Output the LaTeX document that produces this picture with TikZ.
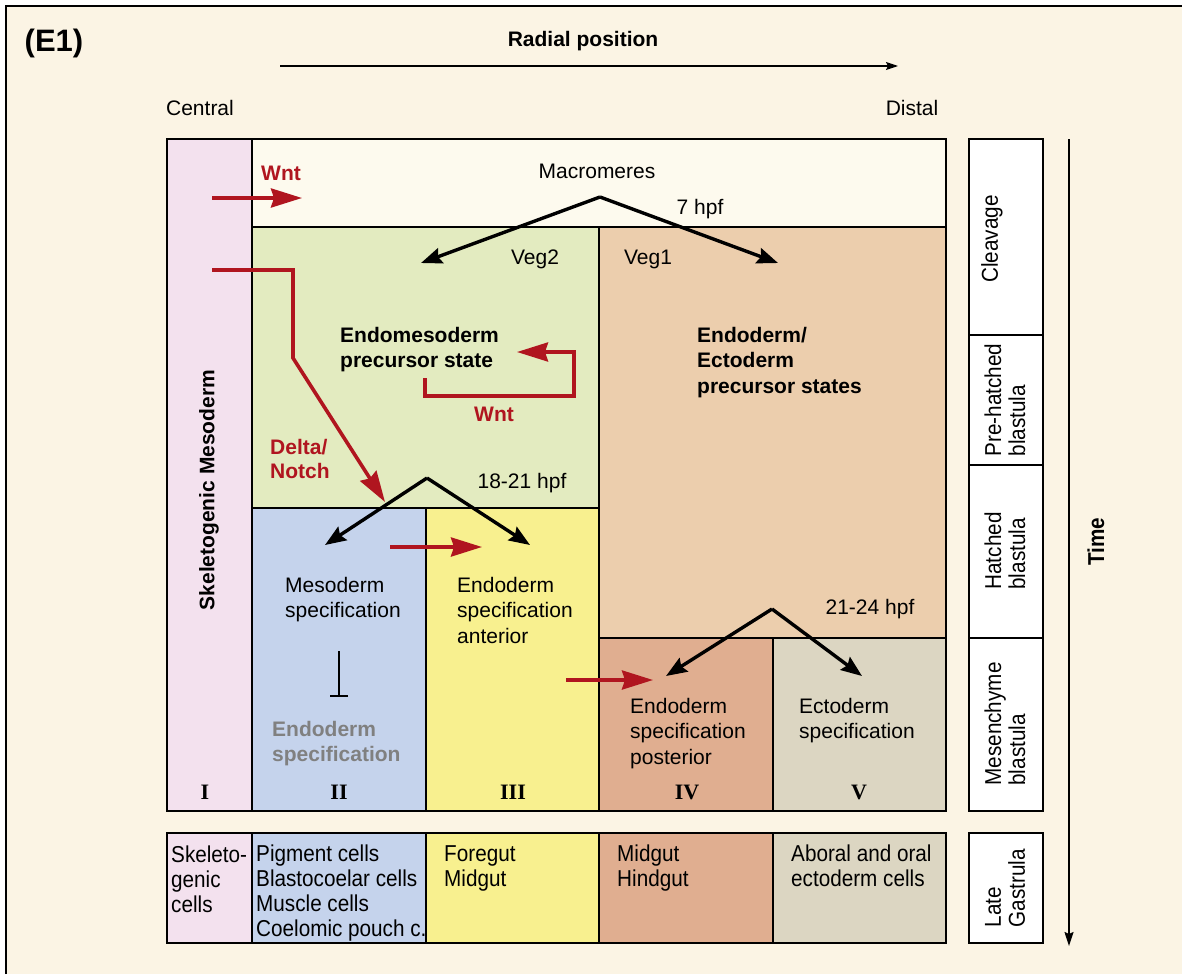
\documentclass[tikz,border=0pt]{standalone}
\usepackage{fontspec}
\setmainfont{Liberation Sans}
\newfontfamily\narrowfont{Liberation Sans}[FakeStretch=0.9]
\newfontfamily\romanfont{Liberation Serif}
\usetikzlibrary{arrows.meta}

\definecolor{bgcream}{HTML}{FBF4E4}
\definecolor{skelpink}{HTML}{F3E1EE}
\definecolor{macro}{HTML}{FDFAEE}
\definecolor{veggreen}{HTML}{E3EBC0}
\definecolor{vegorange}{HTML}{ECCEAD}
\definecolor{mesoblue}{HTML}{C5D3EC}
\definecolor{endoyellow}{HTML}{F8F08F}
\definecolor{postsalmon}{HTML}{E0AE90}
\definecolor{ectobeige}{HTML}{DCD6C2}
\definecolor{sigred}{HTML}{B0151F}
\definecolor{fadegray}{HTML}{808080}

\tikzset{
  cell/.style={draw=black, line width=1.8pt},
  stagebox/.style={draw=black, line width=1.8pt, fill=white},
  lbl/.style={font=\fontsize{21}{25.3}\selectfont, align=left, inner sep=0pt},
  boldlbl/.style={font=\fontsize{21}{25.3}\selectfont\bfseries, align=left, inner sep=0pt},
  redlbl/.style={font=\fontsize{21}{24}\selectfont\bfseries, text=sigred, align=left, inner sep=0pt},
  fatelbl/.style={font=\narrowfont\fontsize{23}{25}\selectfont, align=left, inner sep=0pt, anchor=north west},
  stagelbl/.style={font=\narrowfont\fontsize{23}{24}\selectfont, align=left, inner sep=0pt, rotate=90},
  numlbl/.style={font=\romanfont\fontsize{22}{22}\selectfont\bfseries, inner sep=0pt},
  redarrow/.style={draw=sigred, line width=3.6pt, -{Stealth[length=31pt,width=19pt,inset=3pt]}},
  splitarrow/.style={draw=black, line width=3.4pt, line join=miter, -{Stealth[length=21pt,width=16pt,inset=3pt]}},
}

\begin{document}
\begin{tikzpicture}[x=1pt,y=-1pt]
\useasboundingbox (0,0) rectangle (1182,974);
\fill[white] (0,0) rectangle (1182,974);
\fill[bgcream] (6,6) rectangle (1182,974);
\draw[line width=2.4pt] (6,974) -- (6,6) -- (1182,6);

% heading and radial axis
\node[font=\fontsize{31}{34}\selectfont\bfseries, inner sep=0pt] (panel) at (54,43) {(E1)};
\node[font=\fontsize{21}{24}\selectfont\bfseries, inner sep=0pt] (radial) at (583,41) {Radial position};
\coordinate (radS) at (280,66);
\coordinate (radE) at (898,66);
\draw[line width=1.4pt, -{Stealth[length=12pt,width=8pt,inset=2pt]}] (radS) -- (radE);
\node[lbl] (central) at (200,108) {Central};
\node[lbl] (distal) at (912,108) {Distal};

% main grid of territories
\path[cell, fill=skelpink] (167,139) rectangle (252,811);
\path[cell, fill=macro] (252,139) rectangle (946,227);
\path[cell, fill=veggreen] (252,227) rectangle (599,508);
\path[cell, fill=vegorange] (599,227) rectangle (946,638);
\path[cell, fill=mesoblue] (252,508) rectangle (426,811);
\path[cell, fill=endoyellow] (426,508) rectangle (599,811);
\path[cell, fill=postsalmon] (599,638) rectangle (773,811);
\path[cell, fill=ectobeige] (773,638) rectangle (946,811);

% fates row
\path[cell, fill=skelpink] (167,833) rectangle (252,943);
\path[cell, fill=mesoblue] (252,833) rectangle (426,943);
\path[cell, fill=endoyellow] (426,833) rectangle (599,943);
\path[cell, fill=postsalmon] (599,833) rectangle (773,943);
\path[cell, fill=ectobeige] (773,833) rectangle (946,943);

% stage column
\path[stagebox] (969,139) rectangle (1043,335);
\path[stagebox] (969,335) rectangle (1043,465);
\path[stagebox] (969,465) rectangle (1043,638);
\path[stagebox] (969,638) rectangle (1043,811);
\path[stagebox] (969,833) rectangle (1043,943);
\node[stagelbl] (cleav) at (992,239) {Cleavage};
\node[stagelbl] (prehatch) at (1005,400) {Pre-hatched\\blastula};
\node[stagelbl] (hatch) at (1005,551) {Hatched\\blastula};
\node[stagelbl] (mesench) at (1005,724) {Mesenchyme\\blastula};
\node[stagelbl] (lategas) at (1005,888) {Late\\Gastrula};

% time axis
\coordinate (timeS) at (1069,139);
\coordinate (timeE) at (1069,946);
\draw[line width=1.6pt, -{Stealth[length=14pt,width=9pt,inset=2pt]}] (timeS) -- (timeE);
\node[font=\narrowfont\fontsize{23}{24}\selectfont\bfseries, rotate=90, inner sep=0pt] (time) at (1096,542) {Time};

% territory texts
\node[font=\fontsize{21}{24}\selectfont\bfseries, rotate=90, inner sep=0pt] (skel) at (209,490) {Skeletogenic Mesoderm};
\node[lbl] (macromeres) at (597,171) {Macromeres};
\node[lbl] (hpf7) at (700,209) {7 hpf};
\node[lbl] (veg2) at (535,259) {Veg2};
\node[lbl] (veg1) at (648,259) {Veg1};
\node[boldlbl, anchor=north west] (emprec) at (340,327) {Endomesoderm\\precursor state};
\node[boldlbl, anchor=north west] (eeprec) at (697,327) {Endoderm/\\Ectoderm\\precursor states};
\node[lbl] (hpf18) at (522,483) {18-21 hpf};
\node[lbl] (hpf21) at (870,609) {21-24 hpf};
\node[lbl, anchor=north west] (mesospec) at (285,577) {Mesoderm\\specification};
\node[lbl, anchor=north west] (endoant) at (457,577) {Endoderm\\specification\\anterior};
\node[boldlbl, text=fadegray, anchor=north west] (endogray) at (272,721) {Endoderm\\specification};
\node[lbl, anchor=north west] (endopost) at (630,698) {Endoderm\\specification\\posterior};
\node[lbl, anchor=north west] (ectospec) at (799,698) {Ectoderm\\specification};

% territory numerals
\node[numlbl] (numI) at (205,792) {I};
\node[numlbl] (numII) at (339,792) {II};
\node[numlbl] (numIII) at (513,792) {III};
\node[numlbl] (numIV) at (687,792) {IV};
\node[numlbl] (numV) at (859,792) {V};

% fate texts
\node[fatelbl] (skelcells) at (171,846) {Skeleto-\\genic\\cells};
\node[fatelbl] (mesocells) at (256,845) {Pigment cells\\Blastocoelar cells\\Muscle cells\\Coelomic pouch c.};
\node[fatelbl] (foregut) at (444,845) {Foregut\\Midgut};
\node[fatelbl] (midgut) at (617,845) {Midgut\\Hindgut};
\node[fatelbl] (ectocells) at (791,845) {Aboral and oral\\ectoderm cells};

% lineage splits
\coordinate (apex1) at (600,197);
\coordinate (veg2tip) at (421,263);
\coordinate (veg1tip) at (778,263);
\draw[splitarrow] (apex1) -- (veg2tip);
\draw[splitarrow] (apex1) -- (veg1tip);
\coordinate (apex2) at (427,478);
\coordinate (mesotip) at (325,545);
\coordinate (anttip) at (530,545);
\draw[splitarrow] (apex2) -- (mesotip);
\draw[splitarrow] (apex2) -- (anttip);
\coordinate (apex3) at (772,609);
\coordinate (posttip) at (666,676);
\coordinate (ectotip) at (862,676);
\draw[splitarrow] (apex3) -- (posttip);
\draw[splitarrow] (apex3) -- (ectotip);

% inhibition of endoderm within the mesoderm territory
\coordinate (inhS) at (339,651);
\coordinate (inhE) at (339,697);
\draw[line width=1.6pt, -{Bar[width=18pt]}] (inhS) -- (inhE);

% signalling inputs
\node[redlbl] (wnt1) at (281,173) {Wnt};
\coordinate (wnt1S) at (212,198);
\coordinate (wnt1E) at (302,198);
\draw[redarrow] (wnt1S) -- (wnt1E);

\coordinate (dnS) at (212,270);
\coordinate (dnC1) at (293,270);
\coordinate (dnC2) at (293,358);
\coordinate (dnE) at (385,502);
\draw[redarrow, line join=miter] (dnS) -- (dnC1) -- (dnC2) -- (dnE);
\node[redlbl, anchor=north west] (deltanotch) at (270,439) {Delta/\\Notch};

\coordinate (loopS) at (425,378);
\coordinate (loopA) at (425,396);
\coordinate (loopB) at (574,396);
\coordinate (loopC) at (574,352);
\coordinate (loopE) at (517,352);
\draw[redarrow, line join=miter] (loopS) -- (loopA) -- (loopB) -- (loopC) -- (loopE);
\node[redlbl] (wnt2) at (494,414) {Wnt};

\coordinate (relay1S) at (390,547);
\coordinate (relay1E) at (482,547);
\draw[redarrow] (relay1S) -- (relay1E);
\coordinate (relay2S) at (566,680);
\coordinate (relay2E) at (653,680);
\draw[redarrow] (relay2S) -- (relay2E);
\end{tikzpicture}
\end{document}
